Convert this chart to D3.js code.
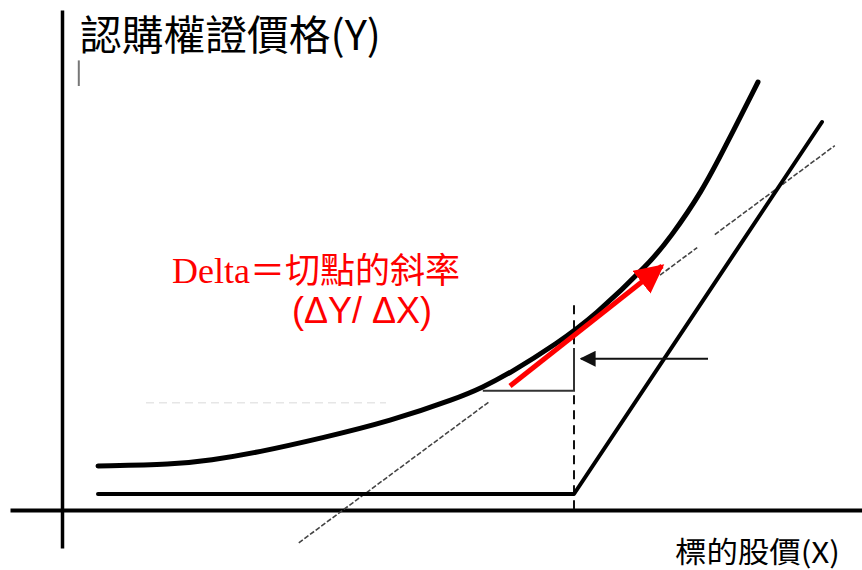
<!DOCTYPE html>
<html>
<head>
<meta charset="utf-8">
<script src="https://cdn.jsdelivr.net/npm/d3@7"></script>
<style>
  body { margin: 0; background: #fff; }
  svg { display: block; }
</style>
</head>
<body>
<svg></svg>
<script>
// warrant price curve (stock price -> warrant price)
let curveX = [4.5, 14, 18.5, 24.5, 32.5, 41, 49.5, 52.5, 56, 62, 66.5, 73.5, 76, 80, 83, 87]
let curveY = [5.5, 5.7, 6.2, 7.2, 9, 11.1, 14, 15.3, 17.1, 20.9, 24.2, 30.9, 34, 39.8, 45.6, 53.5]

// intrinsic value line
let intrinsicX = [4.5, 64, 95]
let intrinsicY = [2, 2, 48.5]

// tangent line at strike (drawn in pieces)
let tangentSlope = 0.741
let tangentX0 = 29.6
let tangentY0 = -4.1
let tangentPieces = [[29.6, 53.5], [74.75, 79.4], [81.6, 96.6]]

let strike = 64
let deltaArrow = [[56, 15.5], [75, 30.5]]
let triangle = [[52.6, 14.9], [64, 14.9], [64, 20.25]]
let pointerArrow = [[80.75, 18.9], [64.9, 18.9]]

let yLabel = "認購權證價格(Y)"
let xLabel = "標的股價(X)"
let deltaLine1 = "Delta"
let deltaLine1b = "＝切點的斜率"
let deltaLine2 = "(ΔY/ ΔX)"

let width = 862
let height = 570

let svg = d3.select('svg')
svg.attr("width", width).attr("height", height)

let xScale = d3.scaleLinear().domain([-6.5, 100]).range([10, 862])
let yScale = d3.scaleLinear().domain([-4.75, 62.5]).range([548, 10])

let defs = svg.append("defs")
defs.append("marker")
    .attr("id", "redhead")
    .attr("viewBox", "0 0 10 10")
    .attr("refX", 9).attr("refY", 5)
    .attr("markerWidth", 5.8).attr("markerHeight", 5.8)
    .attr("markerUnits", "strokeWidth")
    .attr("orient", "auto")
    .append("path").attr("d", "M0,0 L10,5 L0,10 Z").attr("fill", "#ff0000")
defs.append("marker")
    .attr("id", "blackhead")
    .attr("viewBox", "0 0 10 10")
    .attr("refX", 9).attr("refY", 5)
    .attr("markerWidth", 8).attr("markerHeight", 8)
    .attr("markerUnits", "strokeWidth")
    .attr("orient", "auto")
    .append("path").attr("d", "M0,0 L10,5 L0,10 Z").attr("fill", "#111")

// axes
let xAxis = d3.axisBottom(xScale).tickValues([]).tickSizeOuter(0)
svg.append("g")
    .attr("transform", "translate(0," + yScale(0) + ")")
    .call(xAxis)
    .select(".domain").attr("stroke", "#000").attr("stroke-width", 4)

let yAxis = d3.axisLeft(yScale).tickValues([]).tickSizeOuter(0)
svg.append("g")
    .attr("transform", "translate(" + xScale(0) + ",0)")
    .call(yAxis)
    .select(".domain").attr("stroke", "#000").attr("stroke-width", 3.5)

// small mark under the title
svg.append("line")
    .attr("x1", xScale(2.1)).attr("x2", xScale(2.1))
    .attr("y1", yScale(56.2)).attr("y2", yScale(53))
    .attr("stroke", "#777").attr("stroke-width", 2)

// faint dashed guide
svg.append("line")
    .attr("x1", xScale(10.5)).attr("x2", xScale(40.5))
    .attr("y1", yScale(13.4)).attr("y2", yScale(13.4))
    .attr("stroke", "#e6e6e6").attr("stroke-width", 1.5)
    .attr("stroke-dasharray", "8,5")

// strike dashed vertical
svg.append("line")
    .attr("x1", xScale(strike)).attr("x2", xScale(strike))
    .attr("y1", yScale(25.6)).attr("y2", yScale(-0.6))
    .attr("stroke", "#111").attr("stroke-width", 2)
    .attr("stroke-dasharray", "9,6")

// tangent pieces
tangentPieces.forEach(p => {
    svg.append("line")
        .attr("x1", xScale(p[0]))
        .attr("y1", yScale(tangentY0 + tangentSlope * (p[0] - tangentX0)))
        .attr("x2", xScale(p[1]))
        .attr("y2", yScale(tangentY0 + tangentSlope * (p[1] - tangentX0)))
        .attr("stroke", "#444").attr("stroke-width", 1.6)
        .attr("stroke-dasharray", "5,2")
})

// intrinsic value
let line = d3.line().x(d => xScale(d[0])).y(d => yScale(d[1]))
svg.append("path")
    .attr("d", line(intrinsicX.map((x, i) => [x, intrinsicY[i]])))
    .attr("fill", "none").attr("stroke", "#000").attr("stroke-width", 4)
    .attr("stroke-linecap", "round").attr("stroke-linejoin", "round")

// warrant price curve
let curve = d3.line().x(d => xScale(d[0])).y(d => yScale(d[1])).curve(d3.curveBasis)
svg.append("path")
    .attr("d", curve(curveX.map((x, i) => [x, curveY[i]])))
    .attr("fill", "none").attr("stroke", "#000").attr("stroke-width", 5)
    .attr("stroke-linecap", "round")

// triangle
svg.append("path")
    .attr("d", line(triangle))
    .attr("fill", "none").attr("stroke", "#333").attr("stroke-width", 2)

// pointer arrow
svg.append("line")
    .attr("x1", xScale(pointerArrow[0][0])).attr("y1", yScale(pointerArrow[0][1]))
    .attr("x2", xScale(pointerArrow[1][0])).attr("y2", yScale(pointerArrow[1][1]))
    .attr("stroke", "#111").attr("stroke-width", 2)
    .attr("marker-end", "url(#blackhead)")

// red delta arrow
svg.append("line")
    .attr("x1", xScale(deltaArrow[0][0])).attr("y1", yScale(deltaArrow[0][1]))
    .attr("x2", xScale(deltaArrow[1][0])).attr("y2", yScale(deltaArrow[1][1]))
    .attr("stroke", "#ff0000").attr("stroke-width", 5)
    .attr("marker-end", "url(#redhead)")

// texts
svg.append("text")
    .attr("x", 80).attr("y", 50)
    .attr("font-family", "'Noto Sans CJK TC', 'Noto Sans', sans-serif")
    .attr("font-size", 41)
    .attr("textLength", 301)
    .attr("lengthAdjust", "spacingAndGlyphs")
    .attr("fill", "#000")
    .text(yLabel)

svg.append("text")
    .attr("x", 675).attr("y", 563)
    .attr("font-family", "'Noto Sans CJK TC', 'Noto Sans', sans-serif")
    .attr("font-size", 29)
    .attr("textLength", 165)
    .attr("lengthAdjust", "spacingAndGlyphs")
    .attr("fill", "#000")
    .text(xLabel)

let t1 = svg.append("text")
    .attr("x", 172).attr("y", 283)
    .attr("font-size", 36)
    .attr("fill", "#ff0000")
t1.append("tspan")
    .attr("font-family", "'Liberation Serif', serif")
    .text(deltaLine1)
t1.append("tspan")
    .attr("font-family", "'Noto Sans CJK TC', sans-serif")
    .attr("font-size", 35)
    .text(deltaLine1b)

svg.append("text")
    .attr("x", 292).attr("y", 323)
    .attr("font-family", "'Liberation Sans', Arial, sans-serif")
    .attr("font-size", 36)
    .attr("fill", "#ff0000")
    .text(deltaLine2)
</script>
</body>
</html>
